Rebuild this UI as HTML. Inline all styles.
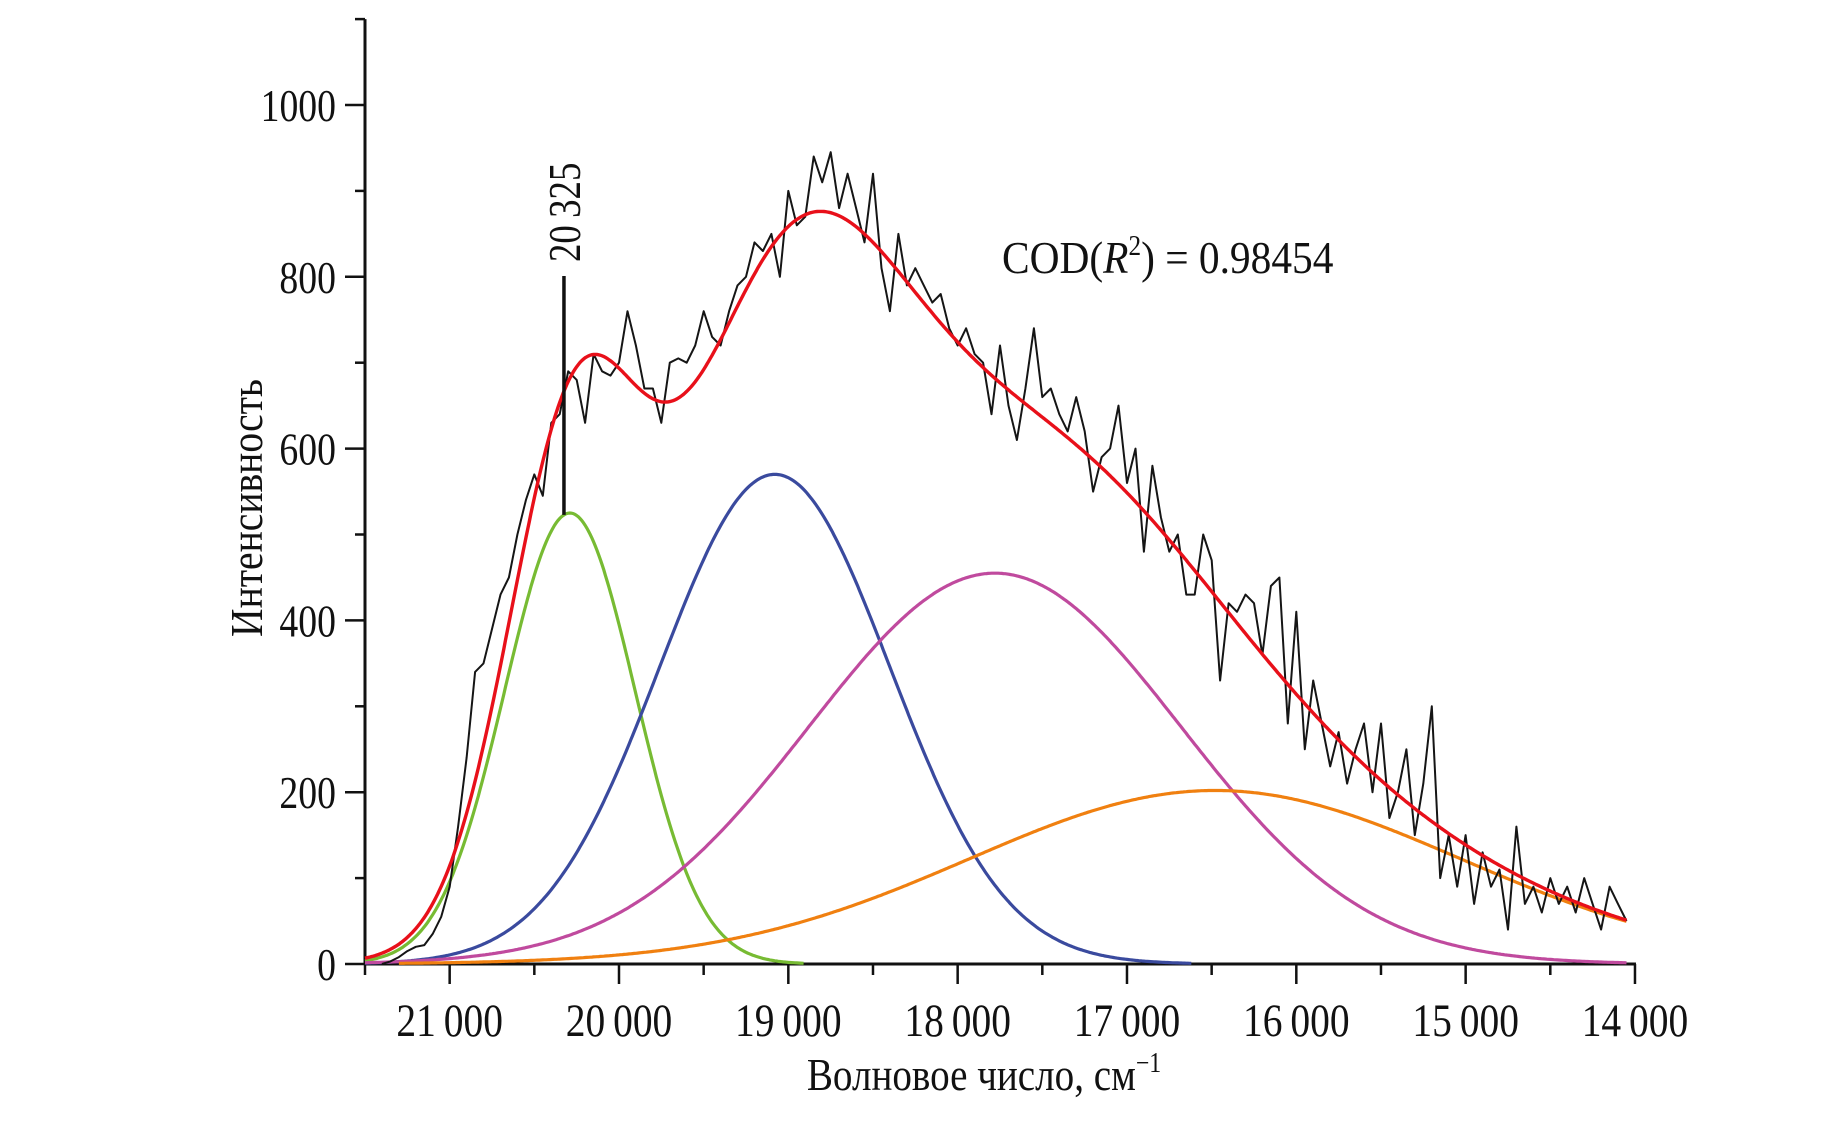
<!DOCTYPE html>
<html><head><meta charset="utf-8"><style>
html,body{margin:0;padding:0;background:#fff;}
svg{display:block;}
text{font-family:"Liberation Serif",serif;fill:#111;}
</style></head><body>
<svg id="chart" width="1848" height="1122" viewBox="0 0 1848 1122" xmlns="http://www.w3.org/2000/svg">
<g id="axes"></g>
<g id="curves"></g>
<g id="labels"></g>
</svg>
<script>
// ---- data ----
const wnStart = 21400;
const wnStep = -50;
const spectrumValues = [0,3,8,15,20,22,35,55,90,160,240,340,350,390,430,450,500,540,570,545,630,640,690,680,630,710,690,685,700,760,720,670,670,630,700,705,700,720,760,730,720,760,790,800,840,830,850,800,900,860,870,940,910,945,880,920,880,840,920,810,760,850,790,810,790,770,780,740,720,740,710,700,640,720,650,610,670,740,660,670,640,620,660,620,550,590,600,650,560,600,480,580,520,480,500,430,430,500,470,330,420,410,430,420,360,440,450,280,410,250,330,280,230,270,210,250,280,200,280,170,200,250,150,210,300,100,150,90,150,70,130,90,110,40,160,70,90,60,100,70,90,60,100,70,40,90,70,50];
const peakCenters = [20290, 19080, 17780, 16480];
const peakHeights = [525, 570, 455, 202];
const peakWidths = [385, 680, 1100, 1450];
const peakColors = ["#77bb33", "#3a4a9e", "#c04a9e", "#f08010"];
const peakNames = ["peak-green", "peak-blue", "peak-magenta", "peak-orange"];
const xTicks = [21000, 20000, 19000, 18000, 17000, 16000, 15000, 14000];
const xTickLabels = ["21\u2009000","20\u2009000","19\u2009000","18\u2009000","17\u2009000","16\u2009000","15\u2009000","14\u2009000"];
const yTicks = [0, 200, 400, 600, 800, 1000];
const yTickLabels = ["0","200","400","600","800","1000"];
const markerWn = [20325];
const markerLabel = ["20\u2009325"];

// ---- scales ----
const X0 = 365, PXW = 0.16933, Y0 = 964, PYI = 0.859;
const sx = w => X0 + (21500 - w) * PXW;
const sy = v => Y0 - v * PYI;
const NS = "http://www.w3.org/2000/svg";
function mk(tag, parent, attrs){const e=document.createElementNS(NS,tag);for(const k in attrs)e.setAttribute(k,attrs[k]);parent.appendChild(e);return e;}
const axes=document.getElementById('axes'), curves=document.getElementById('curves'), labels=document.getElementById('labels');

// axes
let yl = mk('line',axes,{x1:X0,y1:Y0+1,x2:X0,y2:sy(1100),stroke:'#111','stroke-width':3});


let xl = mk('line',axes,{x1:X0-1,y1:Y0,x2:sx(14000)+1,y2:Y0,stroke:'#111','stroke-width':3});


for(let v=0; v<=1100; v+=100){
  const major = v%200===0;
  const t = mk('line',axes,{x1:X0-(major?20:10),y1:sy(v),x2:X0,y2:sy(v),stroke:'#111','stroke-width':2.5});
  
  
}
for(let w=21500; w>=14000; w-=500){
  const major = w%1000===0;
  const t = mk('line',axes,{x1:sx(w),y1:Y0,x2:sx(w),y2:Y0+(major?20:11),stroke:'#111','stroke-width':2.5});
  
  
}
yTicks.forEach((v,i)=>{
  const t = mk('text',labels,{transform:`translate(336,${sy(v)+16}) scale(0.82,1)`,'font-size':46,'text-anchor':'end'});
  t.textContent = yTickLabels[i];
  
  
});
xTicks.forEach((w,i)=>{
  const t = mk('text',labels,{transform:`translate(${sx(w)},1036) scale(0.84,1)`,'font-size':47,'text-anchor':'middle'});
  t.textContent = xTickLabels[i];
  
  
});

// gaussian components
function g(i,w){const d=w-peakCenters[i];return peakHeights[i]*Math.exp(-d*d/(2*peakWidths[i]*peakWidths[i]));}
const wnEnd = 14050;
peakCenters.forEach((c,i)=>{
  let pts=[];
  for(let w=21500; w>=wnEnd; w-=10){ const v=g(i,w); if(v>0.8) pts.push(sx(w).toFixed(1)+','+sy(v).toFixed(1)); }
  const p = mk('polyline',curves,{points:pts.join(' '),fill:'none',stroke:peakColors[i],'stroke-width':3.2});
  
  
});

// experimental spectrum
let sp=[];
spectrumValues.forEach((v,i)=>{ const w=wnStart+i*wnStep; sp.push(sx(w).toFixed(1)+','+sy(v).toFixed(1)); });
const spl = mk('polyline',curves,{points:sp.join(' '),fill:'none',stroke:'#151515','stroke-width':2,'stroke-linejoin':'round'});



// cumulative fit
let fp=[];
for(let w=21500; w>=wnEnd; w-=10){ let s=0; for(let i=0;i<peakCenters.length;i++) s+=g(i,w); fp.push(sx(w).toFixed(1)+','+sy(s).toFixed(1)); }
const fl = mk('polyline',curves,{points:fp.join(' '),fill:'none',stroke:'#e8101a','stroke-width':3.4});



// marker
const mx = sx(markerWn[0]);
const ml = mk('line',labels,{x1:mx,y1:276,x2:mx,y2:sy(g(0,markerWn[0])),stroke:'#111','stroke-width':3.5});


const mt = mk('text',labels,{transform:`translate(${mx+16},262) rotate(-90) scale(0.8,1)`,'font-size':46});
mt.textContent = markerLabel[0];


</script>
<svg style="position:absolute;left:0;top:0" width="1848" height="1122">
<text transform="translate(262,508) rotate(-90) scale(0.86,1)" font-size="46" text-anchor="middle">Интенсивность</text>
<text transform="translate(984,1090) scale(0.85,1)" font-size="46" text-anchor="middle">Волновое число, см<tspan font-size="28" dy="-18">−1</tspan></text>
<text transform="translate(1002,273) scale(0.9,1)" font-size="46">COD(<tspan font-style="italic">R</tspan><tspan font-size="28" dy="-18">2</tspan><tspan dy="18">) = 0.98454</tspan></text>
</svg>
</body></html>
